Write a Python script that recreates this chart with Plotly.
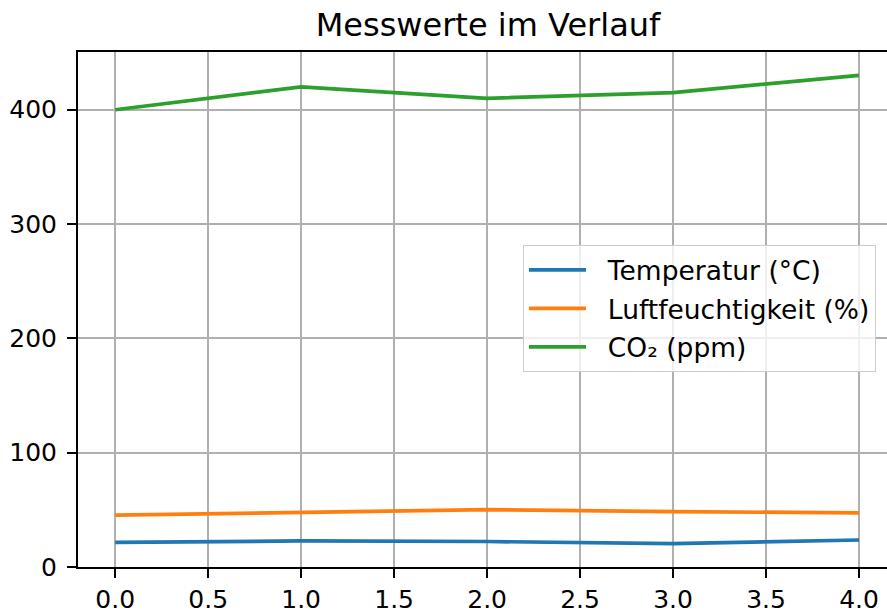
import plotly.graph_objects as go

x_vals = [0, 1, 2, 3, 4]
temperatur = [21.5, 22.8, 22.3, 20.4, 23.6]
luftfeuchtigkeit = [45.3, 47.9, 50.2, 48.5, 47.3]
co2 = [400, 420, 410, 415, 430]
names = ["Temperatur (°C)", "Luftfeuchtigkeit (%)", "CO₂ (ppm)"]
colors = ["#1f77b4", "#ff7f0e", "#2ca02c"]
x_ticks = [0, 0.5, 1, 1.5, 2, 2.5, 3, 3.5, 4]
y_ticks = [0, 100, 200, 300, 400]

FONT = "DejaVu Sans"

fig = go.Figure()
for i, (series, name, col) in enumerate(zip([temperatur, luftfeuchtigkeit, co2], names, colors)):
    fig.add_trace(go.Scatter(x=x_vals, y=series, mode="lines", name="\u00a0\u00a0" + name,
                             legendgroup=f"g{i}",
                             line=dict(color=col, width=3.7)))

fig.update_layout(
    width=887, height=614,
    margin=dict(l=78, r=0, t=52, b=45),
    paper_bgcolor="white", plot_bgcolor="white",
    font=dict(family=FONT, size=25, color="black"),
    title=dict(text="Messwerte im Verlauf", xref="container", x=488/887, xanchor="center",
               yref="container", y=1 - 25/614, yanchor="middle",
               font=dict(family=FONT, size=32, color="black")),
    showlegend=True,
    legend=dict(x=(523-78)/809, y=(569-246)/517, xanchor="left", yanchor="top",
                bgcolor="rgba(255,255,255,0.8)", bordercolor="#cccccc", borderwidth=1,
                font=dict(family=FONT, size=26.5, color="black"),
                traceorder="grouped", tracegroupgap=1, itemwidth=57),
    xaxis=dict(range=[-0.2, 4 + (887-859)/186], tickmode="array", tickvals=x_ticks,
               tickformat=".1f", showgrid=True, gridcolor="#b0b0b0", gridwidth=2,
               showline=True, linecolor="black", linewidth=2, mirror=True,
               ticks="outside", ticklen=9, tickwidth=2, tickcolor="black",
               zeroline=False, tickfont=dict(family=FONT, size=25, color="black")),
    yaxis=dict(range=[0, 450.5], tickmode="array", tickvals=y_ticks,
               showgrid=True, gridcolor="#b0b0b0", gridwidth=2,
               showline=True, linecolor="black", linewidth=2,
               ticks="outside", ticklen=9, tickwidth=2, tickcolor="black",
               ticklabelstandoff=5,
               zeroline=False, tickfont=dict(family=FONT, size=25, color="black")),
)

fig.write_html("out.html", config={"displayModeBar": False},
               post_script="document.body.style.margin='0';document.body.style.overflow='hidden';")
